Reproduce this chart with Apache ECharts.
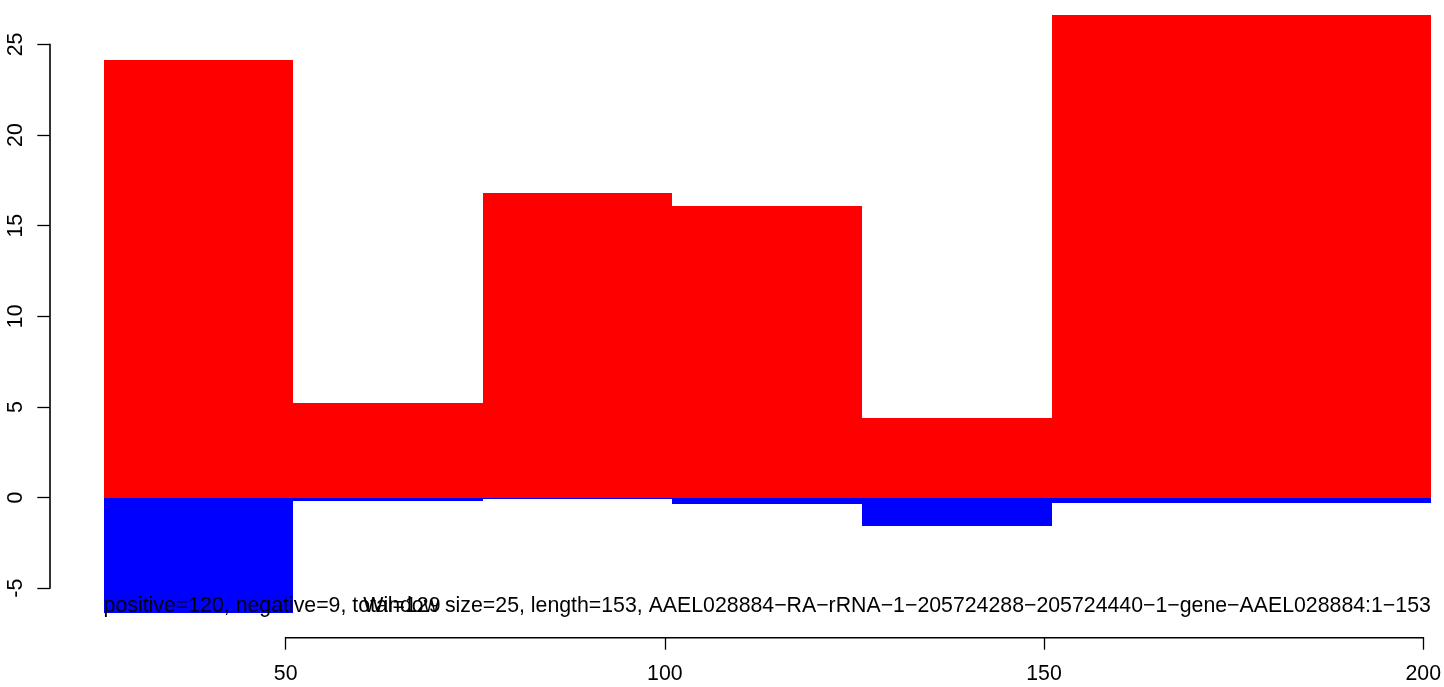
<!DOCTYPE html>
<html>
<head>
<meta charset="utf-8">
<script src="https://cdn.jsdelivr.net/npm/echarts@6/dist/echarts.min.js"></script>
<style>
html,body{margin:0;padding:0;background:#fff;}
#chart{width:1444px;height:687px;}
</style>
</head>
<body>
<div id="chart"></div>
<script>
// ---- data ----
const windowStarts = [26, 51, 76, 101, 126, 151];
const windowEnds   = [51, 76, 101, 126, 151, 201];
const positiveVals = [24.14, 5.23, 16.80, 16.08, 4.40, 26.62];
const negativeVals = [-6.36, -0.18, -0.09, -0.36, -1.56, -0.29];
const xTicks = [50, 100, 150, 200];
const yTicks = [-5, 0, 5, 10, 15, 20, 25];
const leftNote = 'positive=120, negative=9, total=129';
const rightNote = 'Window size=25, length=153, AAEL028884\u2212RA\u2212rRNA\u22121\u2212205724288\u2212205724440\u22121\u2212gene\u2212AAEL028884:1\u2212153';

// axis extents (R-style 4% padding, plot cropped at the right / top)
const X_MIN = 18.93, X_MAX = 202.64;
const Y_MIN = -7.69, Y_MAX = 27.45;
const FONT = 'Liberation Sans, Arial, Helvetica, sans-serif';
const FS = 21.3;

const posData = windowStarts.map((s, i) => [s, windowEnds[i], positiveVals[i]]);
const negData = windowStarts.map((s, i) => [s, windowEnds[i], negativeVals[i]]);

function barRenderer(color) {
  return function (params, api) {
    const x0 = api.value(0), x1 = api.value(1), v = api.value(2);
    const p0 = api.coord([x0, 0]);
    const p1 = api.coord([x1, v]);
    const left = Math.round(p0[0]), right = Math.round(p1[0]);
    const top = Math.round(Math.min(p0[1], p1[1])), bottom = Math.round(Math.max(p0[1], p1[1]));
    return {
      type: 'rect',
      shape: { x: left, y: top, width: right - left, height: Math.max(1, bottom - top) },
      style: { fill: color, stroke: null }
    };
  };
}

const chart = echarts.init(document.getElementById('chart'), null, { renderer: 'canvas' });
chart.setOption({
  animation: false,
  backgroundColor: '#ffffff',
  grid: { left: 50, right: 0, top: 0, bottom: 50, containLabel: false },
  xAxis: {
    type: 'value', min: X_MIN, max: X_MAX,
    splitLine: { show: false },
    axisLine: { show: false, onZero: false },
    axisTick: { show: true, customValues: xTicks, length: 12.7, inside: false, lineStyle: { color: '#000', width: 1.3 } },
    axisLabel: { show: true, customValues: xTicks, color: '#000', fontSize: FS, fontFamily: FONT, margin: 27 }
  },
  yAxis: {
    type: 'value', min: Y_MIN, max: Y_MAX,
    splitLine: { show: false },
    axisLine: { show: false, onZero: false },
    axisTick: { show: true, customValues: yTicks, length: 12.7, inside: false, lineStyle: { color: '#000', width: 1.3 } },
    axisLabel: { show: true, customValues: yTicks, color: '#000', fontSize: FS, fontFamily: FONT, rotate: 90, margin: 23 }
  },
  series: [
    {
      type: 'custom', name: 'negative', data: negData, clip: false, silent: true,
      encode: { x: [0, 1], y: 2 },
      renderItem: barRenderer('#0000FF')
    },
    {
      type: 'custom', name: 'positive', data: posData, clip: false, silent: true,
      encode: { x: [0, 1], y: 2 },
      renderItem: barRenderer('#FF0000')
    },
    {
      type: 'custom', name: 'axesAndNotes', data: [[100, 10]], clip: false, silent: true, z: 10,
      renderItem: function (params, api) {
        const minNeg = Math.min.apply(null, negativeVals);
        const pl = api.coord([windowStarts[0], minNeg]);
        const pr = api.coord([windowEnds[windowEnds.length - 1], minNeg]);
        const ty = pl[1] - 7;
        // R-style axis lines spanning first..last tick
        const ya = api.coord([X_MIN, yTicks[0]]);
        const yb = api.coord([X_MIN, yTicks[yTicks.length - 1]]);
        const xa = api.coord([xTicks[0], Y_MIN]);
        const xb = api.coord([xTicks[xTicks.length - 1], Y_MIN]);
        return {
          type: 'group',
          children: [
            { type: 'polygon', shape: { points: [[ya[0] - 0.8, yb[1] - 0.6], [ya[0] + 0.8, yb[1] - 0.6], [ya[0] + 0.8, ya[1] + 0.6], [ya[0] - 0.8, ya[1] + 0.6]] }, style: { fill: '#000' } },
            { type: 'rect', shape: { x: Math.round(xa[0]), y: Math.round(xa[1]), width: Math.round(xb[0]) - Math.round(xa[0]) + 1, height: 1.4 }, style: { fill: '#000' } },
            { type: 'text', x: pl[0], y: ty, style: { text: leftNote, fill: '#000', font: FS + 'px ' + FONT, textAlign: 'left', verticalAlign: 'middle' } },
            { type: 'text', x: pr[0], y: ty, style: { text: rightNote, fill: '#000', font: FS + 'px ' + FONT, textAlign: 'right', verticalAlign: 'middle' } }
          ]
        };
      }
    }
  ]
});
</script>
</body>
</html>
